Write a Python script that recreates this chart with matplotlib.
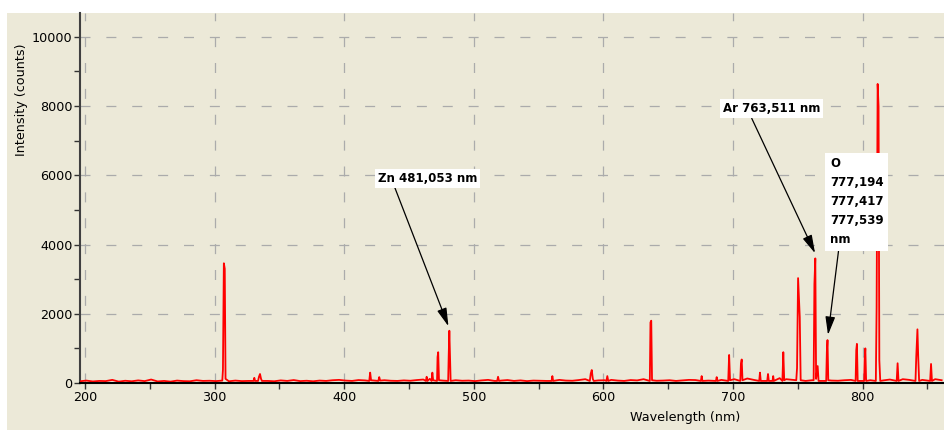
import matplotlib
matplotlib.use("Agg")
import matplotlib.pyplot as plt
from matplotlib.patches import Rectangle
from matplotlib.ticker import MultipleLocator
import numpy as np

# baseline noise, one reading every 5 nm from 196 nm
base_start = 196
base_counts = [50, 70, 45, 60, 55, 90, 40, 65, 50, 75,
               55, 100, 45, 60, 40, 70, 55, 50, 80, 60,
               65, 55, 60, 50, 70, 55, 60, 90, 55, 60,
               50, 75, 60, 85, 55, 65, 50, 70, 60, 80,
               90, 70, 60, 85, 75, 110, 70, 80, 65, 60,
               75, 65, 85, 100, 120, 90, 70, 60, 80, 65,
               70, 55, 75, 90, 60, 70, 85, 60, 75, 55,
               70, 65, 60, 80, 90, 70, 65, 85, 110, 90,
               75, 80, 90, 70, 60, 85, 75, 110, 70, 65,
               70, 80, 60, 75, 90, 85, 110, 70, 120, 90,
               80, 110, 95, 130, 90, 150, 120, 100, 140, 110,
               90, 70, 60, 80, 75, 60, 70, 65, 80, 90,
               70, 90, 80, 60, 75, 100, 80, 110, 90, 70,
               90, 70, 110, 80]
base_nm = [base_start + 5 * i for i in range(len(base_counts))]

# emission lines (with their feet)
line_nm = [305.9, 306.4, 307.1, 307.8, 308.4,
           330.0, 330.6, 331.2, 333.5, 334.2, 335.0, 335.8, 336.5,
           419.3, 420.0, 420.7, 426.3, 427.0, 427.7,
           463.0, 463.6, 464.2, 467.4, 468.0, 468.6,
           471.6, 472.0, 472.5, 473.1,
           480.2, 480.6, 481.1, 481.6, 482.1,
           518.0, 518.7, 519.4, 560.0, 560.6, 561.2,
           589.5, 590.2, 591.0, 591.8, 592.5, 602.3, 603.0, 603.7,
           635.8, 636.3, 636.9, 637.5,
           675.2, 675.8, 676.4, 686.8, 687.4, 688.0,
           696.3, 697.0, 697.7, 705.6, 706.1, 706.7, 707.3,
           720.2, 720.8, 721.4, 726.4, 727.0, 727.6, 730.5, 731.0, 731.5,
           738.1, 738.8, 739.5,
           748.8, 749.4, 750.2, 751.5, 752.2,
           762.2, 762.8, 763.5, 764.1, 765.3, 766.0,
           771.9, 772.4, 772.9, 773.5,
           794.6, 795.1, 795.6, 796.2, 801.2, 801.6, 802.1, 802.7,
           810.2, 810.8, 811.6, 812.3, 812.9, 813.6,
           826.3, 827.0, 827.7,
           840.8, 841.4, 842.3, 842.9, 843.6,
           852.1, 852.8, 853.5]
line_counts = [70, 380, 3460, 3300, 120,
               60, 150, 60, 60, 180, 260, 120, 60,
               60, 300, 80, 60, 170, 70,
               60, 180, 60, 60, 300, 80,
               60, 750, 890, 80,
               60, 780, 1510, 780, 60,
               60, 180, 60, 60, 200, 60,
               60, 270, 375, 120, 60, 60, 200, 60,
               60, 1750, 1800, 80,
               60, 200, 60, 60, 170, 60,
               60, 810, 80, 60, 550, 680, 80,
               60, 300, 60, 60, 260, 60, 60, 200, 60,
               60, 890, 80,
               80, 430, 3030, 1900, 80,
               80, 2860, 3600, 120, 490, 60,
               60, 900, 1240, 80,
               60, 950, 1130, 60, 60, 700, 1000, 60,
               60, 2170, 8640, 7990, 660, 60,
               60, 570, 60,
               60, 760, 1550, 760, 60,
               60, 550, 60]

ln = np.array(line_nm)
keep = [i for i, w in enumerate(base_nm) if np.min(np.abs(ln - w)) > 1.2]
wl = np.array([base_nm[i] for i in keep] + line_nm)
cnt = np.array([base_counts[i] for i in keep] + line_counts)
order = np.argsort(wl)
wl, cnt = wl[order], cnt[order]

beige = "#ECE9D8"
fig = plt.figure(figsize=(9.44, 4.30), dpi=100, facecolor="white")
fig.patches.append(Rectangle((7 / 944, 0), 1, 417 / 430, transform=fig.transFigure,
                             facecolor=beige, edgecolor="none", zorder=-10))
ax = fig.add_axes([80 / 944, 47 / 430, 864 / 944, 370 / 430])
ax.set_facecolor(beige)

ax.plot(wl, cnt, color="#FF0000", lw=1.3, zorder=3)

ax.set_xlim(196.1, 862.8)
ax.set_ylim(0, 10690)
ax.xaxis.set_major_locator(MultipleLocator(100))
ax.xaxis.set_minor_locator(MultipleLocator(50))
ax.yaxis.set_major_locator(MultipleLocator(2000))
ax.yaxis.set_minor_locator(MultipleLocator(1000))

dash = (0, (8, 12.7))
ax.grid(True, which="major", color="#ABABAB", lw=0.9, linestyle=dash, zorder=1)

for s in ["top", "right"]:
    ax.spines[s].set_visible(False)
ax.spines["left"].set_color("#404040")
ax.spines["left"].set_linewidth(1.5)
ax.spines["bottom"].set_color("black")
ax.spines["bottom"].set_linewidth(1.5)
ax.spines["bottom"].set_zorder(4)

ax.tick_params(which="both", direction="out", length=4, width=1, color="#333333",
               labelsize=9.2, labelcolor="black", pad=1.5)

fig.text(22 / 944, (430 - 100) / 430, "Intensity (counts)", rotation=90,
         ha="center", va="center", fontsize=9.2)
fig.text(685 / 944, 12 / 430, "Wavelength (nm)", ha="center", va="center", fontsize=9.2)

box = dict(boxstyle="square,pad=0.25", facecolor="white", edgecolor="none")
arrow = dict(arrowstyle="-|>,head_length=1.3,head_width=0.35", color="black", lw=0.9,
             shrinkA=0, shrinkB=0)

ax.annotate("Zn 481,053 nm", xy=(480.4, 1640), xytext=(464.3, 5910),
            fontsize=8.5, fontweight="bold", ha="center", va="center", bbox=box,
            arrowprops=dict(arrow, relpos=(0.16, 0)), zorder=6)
ax.annotate("Ar 763,511 nm", xy=(763.3, 3750), xytext=(729.9, 7919),
            fontsize=8.5, fontweight="bold", ha="center", va="center", bbox=box,
            arrowprops=dict(arrow, relpos=(0.28, 0)), zorder=6)
ax.annotate("O\n777,194\n777,417\n777,539\nnm", xy=(773.3, 1390), xytext=(774.8, 5231),
            fontsize=8.5, fontweight="bold", ha="left", va="center", linespacing=1.6,
            bbox=dict(boxstyle="square,pad=0.4", facecolor="white", edgecolor="none"),
            arrowprops=dict(arrow, relpos=(0.17, 0)), zorder=6)

fig.savefig("out.png", dpi=100, facecolor="white")
